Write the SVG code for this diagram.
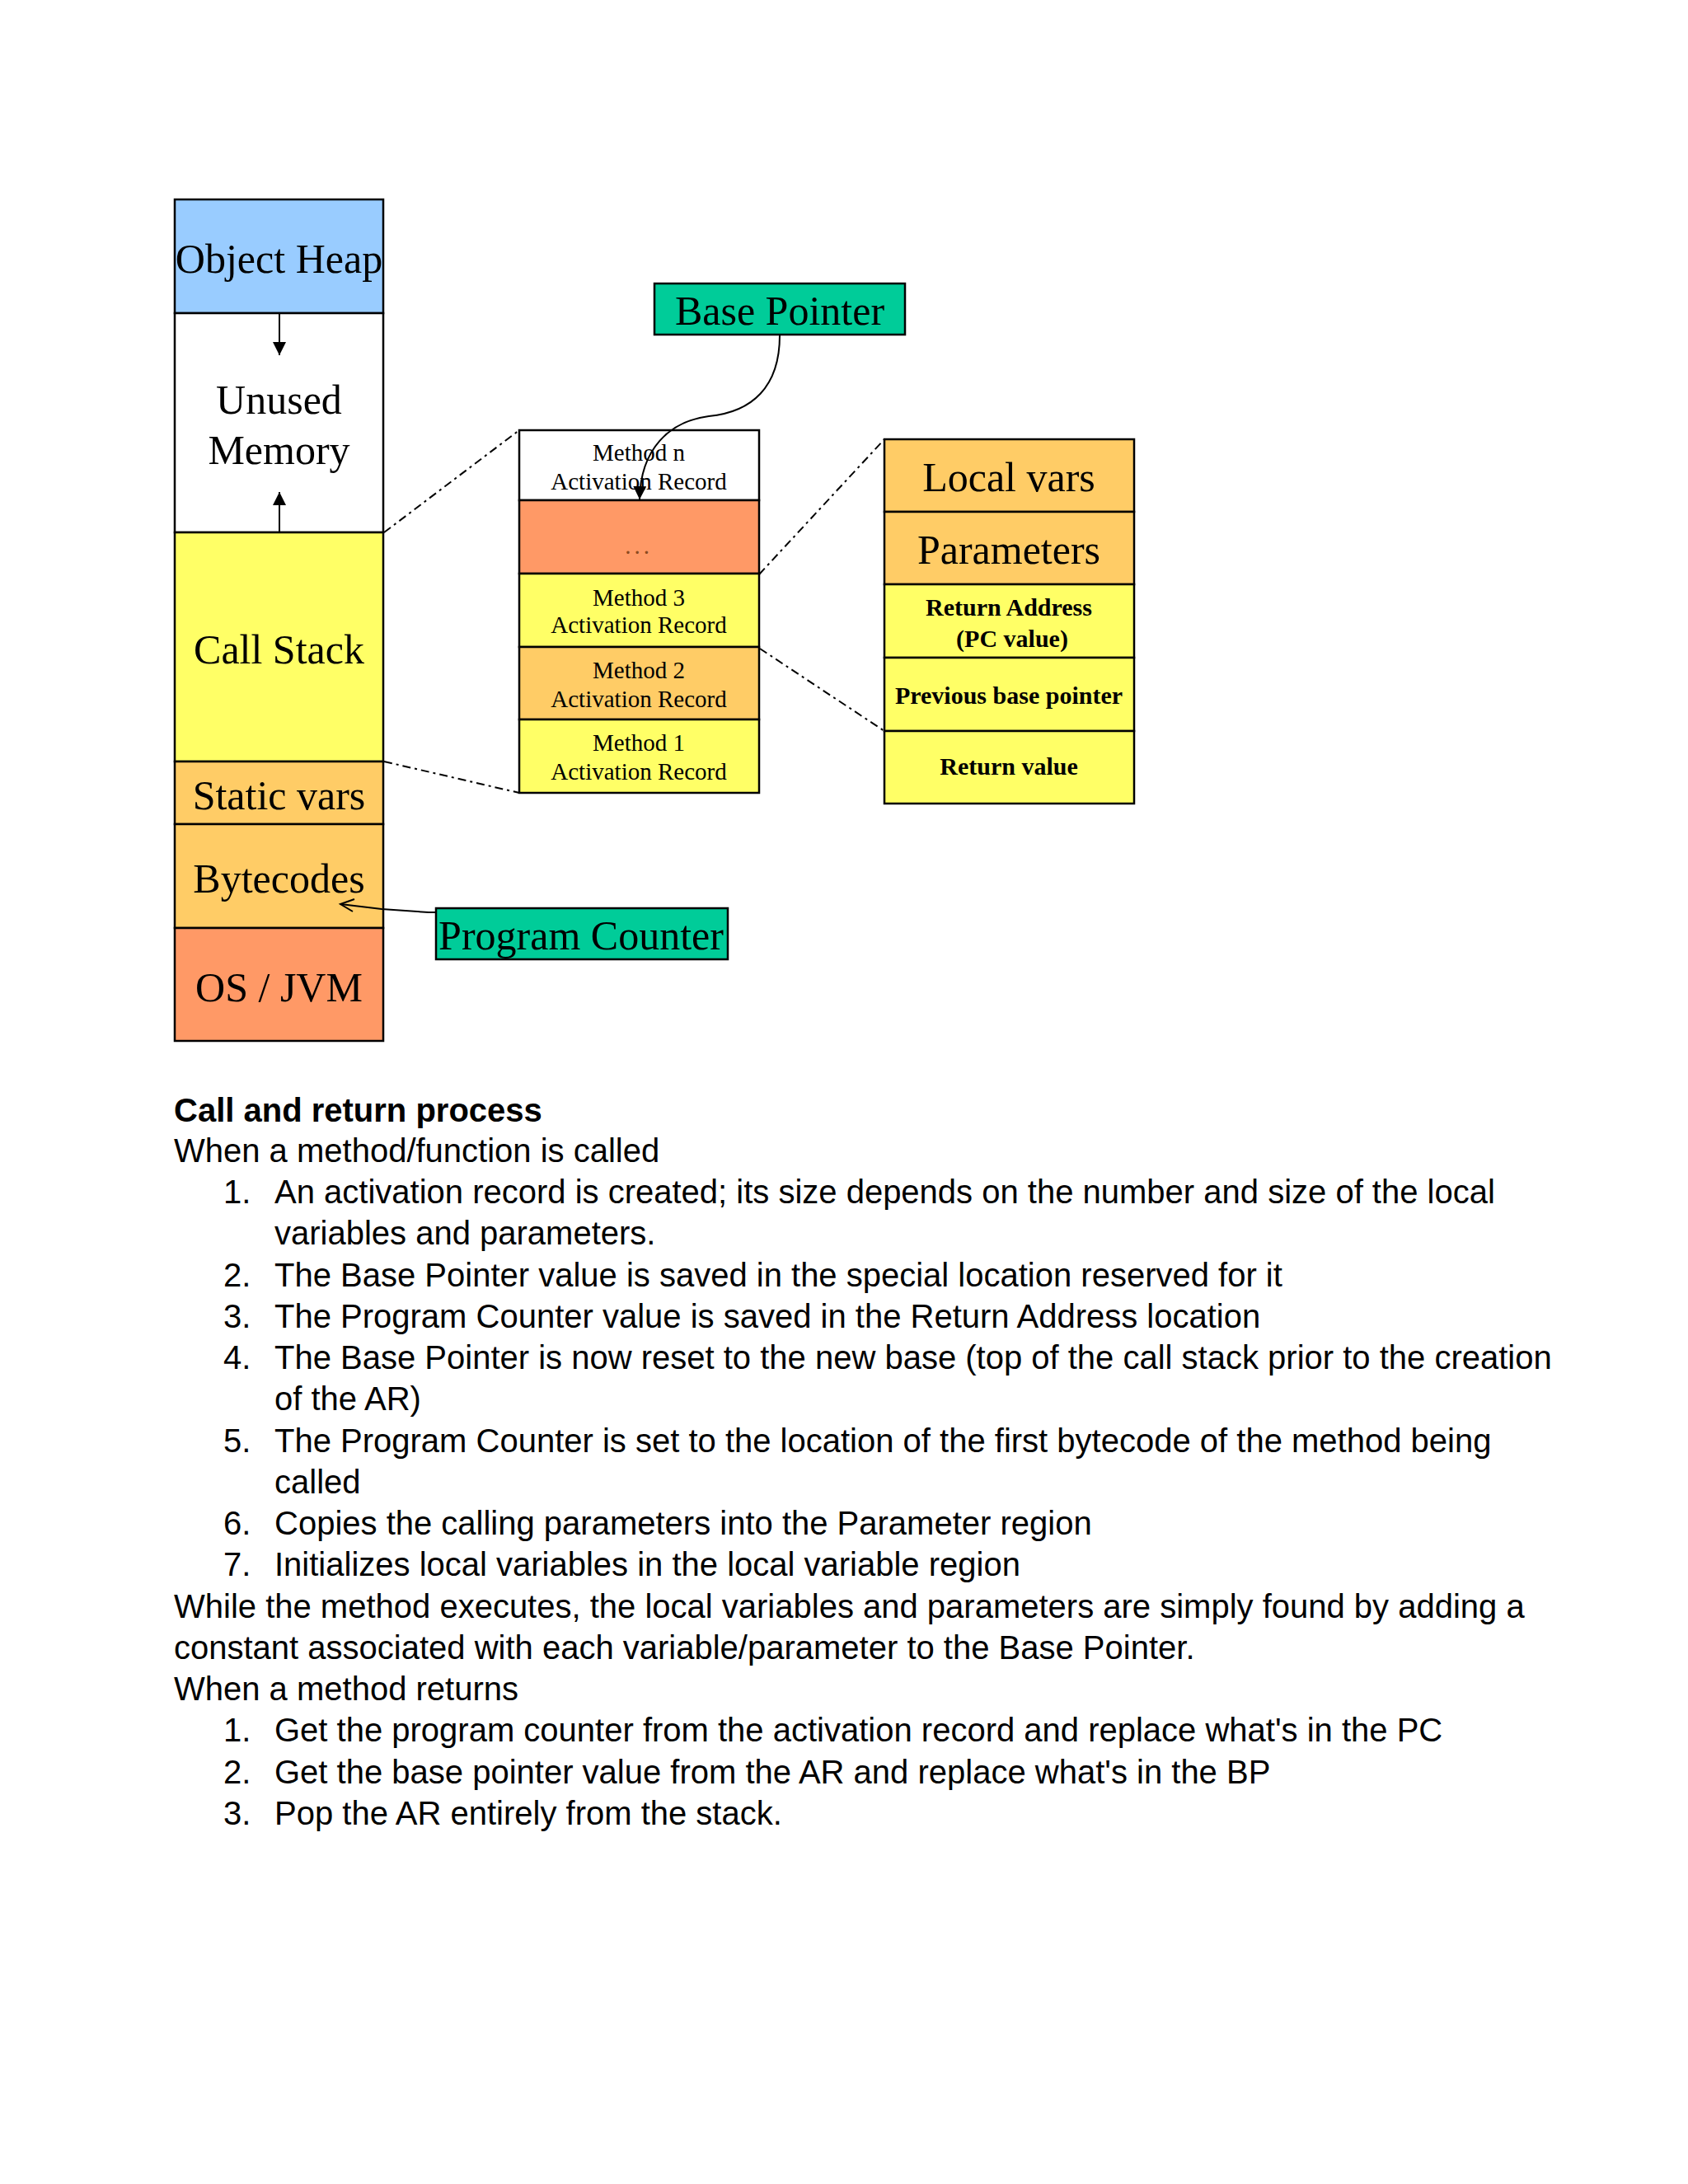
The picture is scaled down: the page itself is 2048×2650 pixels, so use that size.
<svg xmlns="http://www.w3.org/2000/svg" width="2048" height="2650" viewBox="0 0 2048 2650">
<style>
.cell{stroke:#000;stroke-width:2.5}
.lbl{font-family:"Liberation Serif","Times New Roman",serif;font-size:50px;fill:#000;text-anchor:middle}
.sm{font-family:"Liberation Serif","Times New Roman",serif;font-size:29px;fill:#000;text-anchor:middle}
.bd{font-family:"Liberation Serif","Times New Roman",serif;font-size:30px;font-weight:bold;fill:#000;text-anchor:middle}
.body{font-family:"Liberation Sans",Arial,sans-serif;font-size:40px;fill:#000}
.hd{font-weight:bold}
.dash{fill:none;stroke:#000;stroke-width:2;stroke-dasharray:10 5 3 5}
.conn{fill:none;stroke:#000;stroke-width:2}
.blue{fill:#99CCFF}.white{fill:#FFFFFF}.yel{fill:#FFFF66}.org{fill:#FFCC66}.sal{fill:#FF9966}.grn{fill:#00CC99}
</style>
<defs>
<marker id="tri" viewBox="0 0 10 10" refX="10" refY="5" markerWidth="16" markerHeight="16" markerUnits="userSpaceOnUse" orient="auto">
<path d="M0,0 L10,5 L0,10 Z" fill="#000"/>
</marker>
</defs>
<rect width="2048" height="2650" fill="#FFFFFF"/>

<g id="object-heap"><rect class="cell blue" x="212" y="242" width="253" height="138"/><text class="lbl" x="338.5" y="330.5">Object Heap</text></g>
<g id="unused-memory"><rect class="cell white" x="212" y="380" width="253" height="266"/><text class="lbl" x="338.5" y="501.5">Unused</text><text class="lbl" x="338.5" y="563">Memory</text></g>
<g id="call-stack"><rect class="cell yel" x="212" y="646" width="253" height="278"/><text class="lbl" x="338.5" y="804.5">Call Stack</text></g>
<g id="static-vars"><rect class="cell org" x="212" y="924" width="253" height="76"/><text class="lbl" x="338.5" y="981.5">Static vars</text></g>
<g id="bytecodes"><rect class="cell org" x="212" y="1000" width="253" height="126"/><text class="lbl" x="338.5" y="1082.5">Bytecodes</text></g>
<g id="os-jvm"><rect class="cell sal" x="212" y="1126" width="253" height="137"/><text class="lbl" x="338.5" y="1214.5">OS / JVM</text></g>

<g id="method-n"><rect class="cell white" x="630" y="522" width="291" height="85"/><text class="sm" x="775" y="558.5">Method n</text><text class="sm" x="775" y="593.5">Activation Record</text></g>
<g id="ellipsis"><rect class="cell sal" x="630" y="607" width="291" height="89"/><text class="sm" x="775" y="672" style="fill:#8B4A20;letter-spacing:4px">...</text></g>
<g id="method-3"><rect class="cell yel" x="630" y="696" width="291" height="89"/><text class="sm" x="775" y="734.5">Method 3</text><text class="sm" x="775" y="768">Activation Record</text></g>
<g id="method-2"><rect class="cell org" x="630" y="785" width="291" height="88"/><text class="sm" x="775" y="823">Method 2</text><text class="sm" x="775" y="858">Activation Record</text></g>
<g id="method-1"><rect class="cell yel" x="630" y="873" width="291" height="89"/><text class="sm" x="775" y="910.5">Method 1</text><text class="sm" x="775" y="945.5">Activation Record</text></g>

<g id="local-vars"><rect class="cell org" x="1073" y="533" width="303" height="88"/><text class="lbl" x="1224" y="595.5">Local vars</text></g>
<g id="parameters"><rect class="cell org" x="1073" y="621" width="303" height="88"/><text class="lbl" x="1224" y="683.5">Parameters</text></g>
<g id="return-address"><rect class="cell yel" x="1073" y="709" width="303" height="89"/><text class="bd" x="1224" y="746.5">Return Address</text><text class="bd" x="1228" y="784.5">(PC value)</text></g>
<g id="previous-base-pointer"><rect class="cell yel" x="1073" y="798" width="303" height="89"/><text class="bd" x="1224" y="853.5">Previous base pointer</text></g>
<g id="return-value"><rect class="cell yel" x="1073" y="887" width="303" height="88"/><text class="bd" x="1224" y="940">Return value</text></g>

<g id="base-pointer"><rect class="cell grn" x="794" y="344" width="304" height="62"/><text class="lbl" x="946" y="393.5">Base Pointer</text></g>
<g id="program-counter"><rect class="cell grn" x="529" y="1102" width="354" height="62"/><text class="lbl" x="705" y="1151.5">Program Counter</text></g>

<g id="connectors">
<line class="conn" x1="339" y1="381" x2="339" y2="431" marker-end="url(#tri)"/>
<line class="conn" x1="339" y1="645" x2="339" y2="597" marker-end="url(#tri)"/>
<path class="dash" d="M466,646 L630,522"/>
<path class="dash" d="M466,924 L617,959 L630,962"/>
<path class="dash" d="M921,697 L1073,533"/>
<path class="dash" d="M922,787 L1073,887"/>
<path class="conn" d="M946,407 C946,470 912,500 860,505 C812,511 777,545 776,606" marker-end="url(#tri)"/>
<polyline class="conn" points="529,1107 520,1107 463,1103 413,1097"/>
<polyline class="conn" points="430,1091 413,1097 428,1106"/>
</g>

<g id="text" class="body">
<text class="body hd" x="211" y="1360.5">Call and return process</text>
<text class="body" x="211" y="1410.25">When a method/function is called</text>
<text class="body" x="271" y="1460">1.</text><text class="body" x="333" y="1460">An activation record is created; its size depends on the number and size of the local</text>
<text class="body" x="333" y="1510.25">variables and parameters.</text>
<text class="body" x="271" y="1560.5">2.</text><text class="body" x="333" y="1560.5">The Base Pointer value is saved in the special location reserved for it</text>
<text class="body" x="271" y="1610.75">3.</text><text class="body" x="333" y="1610.75">The Program Counter value is saved in the Return Address location</text>
<text class="body" x="271" y="1661">4.</text><text class="body" x="333" y="1661">The Base Pointer is now reset to the new base (top of the call stack prior to the creation</text>
<text class="body" x="333" y="1711.25">of the AR)</text>
<text class="body" x="271" y="1761.5">5.</text><text class="body" x="333" y="1761.5">The Program Counter is set to the location of the first bytecode of the method being</text>
<text class="body" x="333" y="1811.75">called</text>
<text class="body" x="271" y="1862">6.</text><text class="body" x="333" y="1862">Copies the calling parameters into the Parameter region</text>
<text class="body" x="271" y="1912.25">7.</text><text class="body" x="333" y="1912.25">Initializes local variables in the local variable region</text>
<text class="body" x="211" y="1962.5">While the method executes, the local variables and parameters are simply found by adding a</text>
<text class="body" x="211" y="2012.75">constant associated with each variable/parameter to the Base Pointer.</text>
<text class="body" x="211" y="2063">When a method returns</text>
<text class="body" x="271" y="2113.25">1.</text><text class="body" x="333" y="2113.25">Get the program counter from the activation record and replace what's in the PC</text>
<text class="body" x="271" y="2163.5">2.</text><text class="body" x="333" y="2163.5">Get the base pointer value from the AR and replace what's in the BP</text>
<text class="body" x="271" y="2213.75">3.</text><text class="body" x="333" y="2213.75">Pop the AR entirely from the stack.</text>
</g>
</svg>
